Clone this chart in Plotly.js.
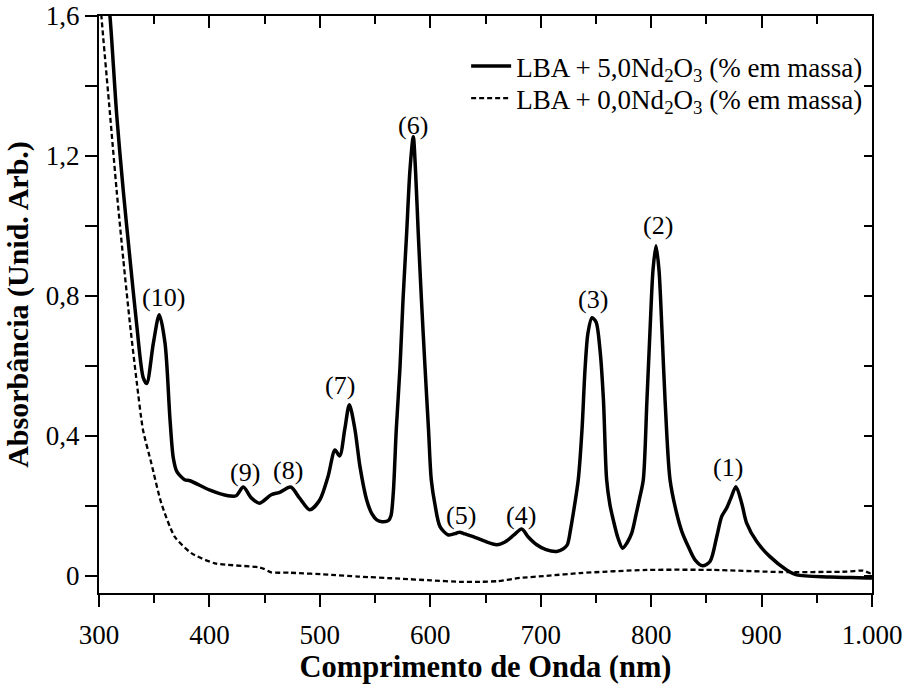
<!DOCTYPE html>
<html>
<head>
<meta charset="utf-8">
<script src="https://cdn.plot.ly/plotly-3.0.1.min.js"></script>
<style>
  html, body { margin: 0; padding: 0; background: #ffffff; }
  #chart { width: 908px; height: 688px; }
</style>
</head>
<body>
<div id="chart"></div>
<script>
// Absorption spectrum of the Nd2O3-doped LBA glass (nm, arbitrary units)
const wavelengthNd = [308, 310, 316, 322, 328.1, 334.1, 340.1, 343.2, 349.2, 354.6, 359.8, 364.3, 367.3, 370.4,
  377.6, 382.4, 400.5, 416.8, 424.1, 430.7, 437.9, 445.5, 456, 463.6, 473.6, 481.7, 490.8, 499.9, 507.4,
  513.7, 518, 522.5, 526.7, 531.8, 536.3, 542.4, 547.2, 551.5, 556.3, 562, 564.4, 566.5, 569.2, 572.6,
  575.3, 578.6, 581.6, 584.6, 586.6, 589.1, 592, 595.2, 598.4, 600.9, 604.3, 608.8, 616.3, 623.6, 626.6,
  631.4, 638.9, 648.6, 660.1, 667.6, 675.8, 682.8, 688.5, 696.4, 704.8, 714.5, 720.2, 724.1, 727, 729.5,
  734, 737.4, 740.1, 742.8, 746.4, 750.1, 753.7, 756.8, 759.7, 762.7, 765.7, 769.9, 774.2, 778.1, 782.4,
  786.3, 789.9, 792.9, 796.2, 799, 801.7, 804.4, 807.1, 809.8, 812.6, 817.1, 823.1, 827.9, 833.6, 839.7,
  846.7, 853.3, 859.4, 863.9, 868.4, 872.3, 876.8, 882, 886.5, 895.6, 907.6, 922.7, 931.8, 961.9, 998.1, 1000];
const absorbanceNd = [1.65, 1.597, 1.318, 1.100, 0.904, 0.718, 0.565, 0.549, 0.664, 0.746, 0.664, 0.446, 0.336, 0.298,
  0.274, 0.271, 0.244, 0.228, 0.228, 0.253, 0.222, 0.207, 0.231, 0.238, 0.253, 0.221, 0.188, 0.216, 0.283,
  0.359, 0.342, 0.417, 0.488, 0.417, 0.312, 0.216, 0.176, 0.159, 0.154, 0.157, 0.171, 0.236, 0.417, 0.597,
  0.788, 0.979, 1.160, 1.255, 1.160, 0.979, 0.788, 0.597, 0.417, 0.274, 0.202, 0.140, 0.116, 0.121, 0.124,
  0.119, 0.111, 0.099, 0.088, 0.096, 0.116, 0.133, 0.111, 0.088, 0.074, 0.069, 0.076, 0.088, 0.131, 0.178,
  0.274, 0.417, 0.588, 0.694, 0.737, 0.725, 0.645, 0.502, 0.274, 0.202, 0.159, 0.108, 0.078, 0.093, 0.121,
  0.174, 0.226, 0.274, 0.502, 0.702, 0.874, 0.943, 0.874, 0.702, 0.502, 0.274, 0.178, 0.125, 0.083, 0.045,
  0.028, 0.040, 0.111, 0.169, 0.193, 0.222, 0.254, 0.207, 0.150, 0.097, 0.054, 0.016, 0.002, -0.004, -0.007, -0.008];

// Undoped LBA glass
const wavelengthBase = [301, 302.4, 310, 316, 322, 328.1, 334.1, 339.8, 347.4, 356.4, 368.5, 383.6, 404.8, 444,
  449.4, 456, 472.9, 510.4, 534.5, 572.6, 600.9, 626.9, 645, 661.3, 681.2, 705.4, 735.6, 796, 856.3, 916.7,
  977.1, 991.8, 998.2, 1000];
const absorbanceBase = [1.65, 1.591, 1.318, 1.100, 0.904, 0.718, 0.555, 0.417, 0.321, 0.207, 0.111, 0.064, 0.035, 0.024,
  0.019, 0.009, 0.008, 0.002, -0.003, -0.009, -0.014, -0.018, -0.018, -0.016, -0.007, -0.001, 0.007, 0.016, 0.016, 0.010,
  0.011, 0.014, 0.007, 0.008];

// Band numbering and where each number sits
const bandLabels = ['(1)', '(2)', '(3)', '(4)', '(5)', '(6)', '(7)', '(8)', '(9)', '(10)'];
const bandLabelX = [870, 806, 747, 682, 628, 584, 518, 471, 432, 358];
const bandLabelY = [0.308, 1.0, 0.788, 0.171, 0.171, 1.288, 0.542, 0.30, 0.296, 0.794];

const seriesNames = [
  'LBA + 5,0Nd<sub>2</sub>O<sub>3</sub> (% em massa)',
  'LBA + 0,0Nd<sub>2</sub>O<sub>3</sub> (% em massa)'
];

const xTickVals = [300, 400, 500, 600, 700, 800, 900, 1000];
const xTickText = ['300', '400', '500', '600', '700', '800', '900', '1.000'];
const yTickVals = [0, 0.4, 0.8, 1.2, 1.6];
const yTickText = ['0', '0,4', '0,8', '1,2', '1,6'];

const serif = 'Liberation Serif';
const legendFont = { family: serif, size: 27, color: '#000000' };

const traces = [
  {
    x: wavelengthNd, y: absorbanceNd, name: seriesNames[0], type: 'scatter', mode: 'lines',
    legend: 'legend',
    line: { color: '#000000', width: 3.5, shape: 'spline', smoothing: 0.8 }
  },
  {
    x: wavelengthBase, y: absorbanceBase, name: seriesNames[1], type: 'scatter', mode: 'lines',
    legend: 'legend2',
    line: { color: '#000000', width: 2.3, dash: '5px,3px', shape: 'spline', smoothing: 0.6 }
  },
  // carrier for the top and right frame axes
  { x: [], y: [], xaxis: 'x2', yaxis: 'y2', showlegend: false, hoverinfo: 'skip' }
];

const annotations = bandLabels.map((t, i) => ({
  x: bandLabelX[i], y: bandLabelY[i], xref: 'x', yref: 'y', text: t, showarrow: false,
  xanchor: 'center', yanchor: 'middle',
  font: { family: serif, size: 26, color: '#000000' }
}));

const layout = {
  width: 908, height: 688,
  margin: { l: 99, r: 36, t: 16, b: 95 },
  paper_bgcolor: '#ffffff', plot_bgcolor: '#ffffff',
  font: { family: serif, color: '#000000' },
  showlegend: true,
  legend: {
    x: 0.995, xanchor: 'right', y: 0.955, yanchor: 'top',
    bgcolor: 'rgba(0,0,0,0)', borderwidth: 0, font: legendFont, itemwidth: 40
  },
  legend2: {
    x: 0.995, xanchor: 'right', y: 0.8995, yanchor: 'top',
    bgcolor: 'rgba(0,0,0,0)', borderwidth: 0, font: legendFont, itemwidth: 40
  },
  xaxis: {
    range: [300, 1000], tickmode: 'array', tickvals: xTickVals, ticktext: xTickText,
    ticks: 'outside', ticklen: 12, tickwidth: 2, tickcolor: '#000000', ticklabelstandoff: 5,
    minor: { tickmode: 'linear', tick0: 300, dtick: 50, ticks: 'outside', ticklen: 8, tickwidth: 2, tickcolor: '#000000' },
    showline: true, linewidth: 2, linecolor: '#000000', mirror: false,
    showgrid: false, zeroline: false,
    tickfont: { family: serif, size: 27, color: '#000000' },
    title: { text: 'Comprimento de Onda (nm)', standoff: 4,
      font: { family: serif, size: 30.5, weight: 700, color: '#000000' } }
  },
  yaxis: {
    range: [-0.05, 1.6], tickmode: 'array', tickvals: yTickVals, ticktext: yTickText,
    ticks: 'outside', ticklen: 12, tickwidth: 2, tickcolor: '#000000',
    minor: { tickmode: 'linear', tick0: 0, dtick: 0.2, ticks: 'outside', ticklen: 12, tickwidth: 2, tickcolor: '#000000' },
    showline: true, linewidth: 2, linecolor: '#000000', mirror: false,
    showgrid: false, zeroline: false,
    tickfont: { family: serif, size: 27, color: '#000000' },
    title: { text: 'Absorbância (Unid. Arb.)', font: { family: serif, size: 30, weight: 700, color: '#000000' } }
  },
  xaxis2: {
    overlaying: 'x', side: 'top', anchor: 'y2', range: [300, 1000],
    tickmode: 'linear', tick0: 300, dtick: 100, ticks: 'inside', ticklen: 12, tickwidth: 2, tickcolor: '#000000',
    minor: { tickmode: 'linear', tick0: 300, dtick: 50, ticks: 'inside', ticklen: 8, tickwidth: 2, tickcolor: '#000000' },
    showticklabels: false, showline: true, linewidth: 2, linecolor: '#000000',
    showgrid: false, zeroline: false
  },
  yaxis2: {
    overlaying: 'y', side: 'right', anchor: 'x2', range: [-0.05, 1.6],
    tickmode: 'linear', tick0: 0, dtick: 0.2, ticks: 'inside', ticklen: 8, tickwidth: 2, tickcolor: '#000000',
    showticklabels: false, showline: true, linewidth: 2, linecolor: '#000000',
    showgrid: false, zeroline: false
  },
  annotations: annotations
};

Plotly.newPlot('chart', traces, layout, { displayModeBar: false, staticPlot: true });
</script>
</body>
</html>
